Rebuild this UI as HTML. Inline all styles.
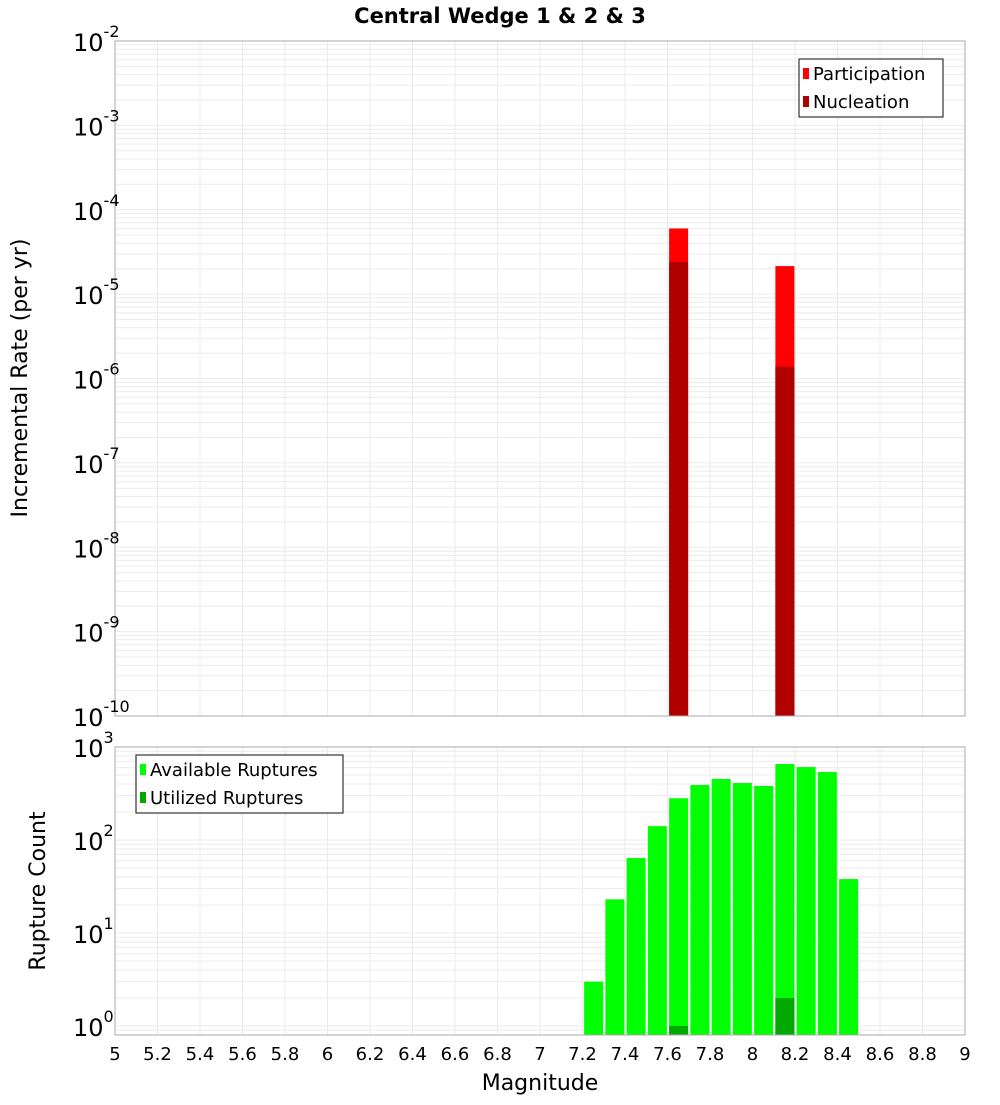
<!DOCTYPE html>
<html><head><meta charset="utf-8"><style>
body{margin:0;background:#fff;font-family:"Liberation Sans","DejaVu Sans",sans-serif;}
svg text{font-family:"DejaVu Sans","Liberation Sans",sans-serif;}
</style></head><body>
<svg id="chart" width="1000" height="1100" xmlns="http://www.w3.org/2000/svg">
<text x="500" y="23" text-anchor="middle" font-size="21" font-weight="bold">Central Wedge 1 &amp; 2 &amp; 3</text>
<g id="topPanel"></g><g id="botPanel"></g>
<text transform="translate(27,378) rotate(-90)" text-anchor="middle" font-size="22">Incremental Rate (per yr)</text>
<text transform="translate(45,891) rotate(-90)" text-anchor="middle" font-size="22">Rupture Count</text>
<text x="540" y="1090" text-anchor="middle" font-size="22">Magnitude</text>
</svg>
<script>
const mags=[7.25,7.35,7.45,7.55,7.65,7.75,7.85,7.95,8.05,8.15,8.25,8.35,8.45];
const available=[3,23,64,141,281,390,453,410,381,656,609,538,38];
const utilizedMags=[7.65,8.15];
const utilized=[1,2];
const rateMags=[7.65,8.15];
const participation=[6.0e-5,2.15e-5];
const nucleation=[2.4e-5,1.38e-6];
const xTicks=["5","5.2","5.4","5.6","5.8","6","6.2","6.4","6.6","6.8","7","7.2","7.4","7.6","7.8","8","8.2","8.4","8.6","8.8","9"];

const NS="http://www.w3.org/2000/svg";
const L=115,R=965;
const X=m=>L+(m-5)*(R-L)/4;
const T={top:41,bot:716,lmin:-10,lmax:-2};
const B={top:747,bot:1035,zero:1026,dec:93};
const Yt=v=>T.bot-(Math.log10(v)-T.lmin)*(T.bot-T.top)/(T.lmax-T.lmin);
const Yb=v=>B.zero-Math.log10(v)*B.dec;
function el(tag,a,p){const e=document.createElementNS(NS,tag);for(const k in a)e.setAttribute(k,a[k]);p.appendChild(e);return e;}
const gTop=document.getElementById('topPanel'),gBot=document.getElementById('botPanel');

function panel(g,y0,y1,yf,dmin,dmax){
  el('rect',{x:L,y:y0,width:R-L,height:y1-y0,fill:'#fff'},g);
  for(let d=dmin;d<=dmax;d++){for(let k=1;k<10;k++){const v=k*Math.pow(10,d);const y=yf(v);if(y<y0-0.5||y>y1+0.5)continue;
    el('line',{x1:L,x2:R,y1:y,y2:y,stroke:'#ebebeb','stroke-width':1},g);}}
  for(let i=1;i<20;i++){const x=X(5+i*0.2);el('line',{x1:x,x2:x,y1:y0,y2:y1,stroke:'#ebebeb','stroke-width':1},g);}
}
panel(gTop,T.top,T.bot,Yt,-10,-2);
panel(gBot,B.top,B.bot,Yb,-1,3);

const bw=19;
rateMags.forEach((m,i)=>{
  const r=el('rect',{x:X(m)-bw/2+0.5,y:Yt(participation[i]),width:bw,height:T.bot-Yt(participation[i]),fill:'#ff0000'},gTop);
  
  
  const n=el('rect',{x:X(m)-bw/2+0.5,y:Yt(nucleation[i]),width:bw,height:T.bot-Yt(nucleation[i]),fill:'#b00000'},gTop);
  
  
});
mags.forEach((m,i)=>{
  const r=el('rect',{x:X(m)-bw/2+0.5,y:Yb(available[i]),width:bw,height:B.bot-Yb(available[i]),fill:'#00ff00'},gBot);
  
  
});
utilizedMags.forEach((m,i)=>{
  const r=el('rect',{x:X(m)-bw/2+0.5,y:Yb(utilized[i]),width:bw,height:B.bot-Yb(utilized[i]),fill:'#00aa00'},gBot);
  
  
});
el('rect',{x:L,y:T.top,width:R-L,height:T.bot-T.top,fill:'none',stroke:'#aaa','stroke-width':1},gTop);
el('rect',{x:L,y:B.top,width:R-L,height:B.bot-B.top,fill:'none',stroke:'#aaa','stroke-width':1},gBot);

function ylab(g,y,e,nm){const t=el('text',{x:73,y:y+10,'font-size':24},g);
  
  
  t.appendChild(document.createTextNode('10'));const s=el('tspan',{dy:-14,'font-size':16},t);s.textContent=e;}
for(let d=-10;d<=-2;d++)ylab(gTop,Yt(Math.pow(10,d)),String(d),'y-tick-top-'+d);
for(let d=0;d<=3;d++)ylab(gBot,Yb(Math.pow(10,d)),String(d),'y-tick-bottom-'+d);
xTicks.forEach(s=>{const t=el('text',{x:X(parseFloat(s)),y:1060,'text-anchor':'middle','font-size':18},gBot);
  
  
  t.textContent=s;});

function legend(g,x,y,w,items,nm){const lg=el('g',{},g);
  
  
  el('rect',{x:x,y:y,width:w,height:58,fill:'#fff',stroke:'#333','stroke-width':1.2},lg);
  items.forEach((it,i)=>{const yy=y+14+i*28;
    el('rect',{x:x+4,y:yy-5,width:6,height:11,fill:it[1]},lg);
    const t=el('text',{x:x+14,y:yy+7,'font-size':18},lg);
    
    
    t.textContent=it[0];});}
legend(gTop,799,59,144,[['Participation','#ff0000'],['Nucleation','#b00000']],'legend-top');
legend(gBot,136,755,207,[['Available Ruptures','#00ff00'],['Utilized Ruptures','#00aa00']],'legend-bottom');
</script>
</body></html>
